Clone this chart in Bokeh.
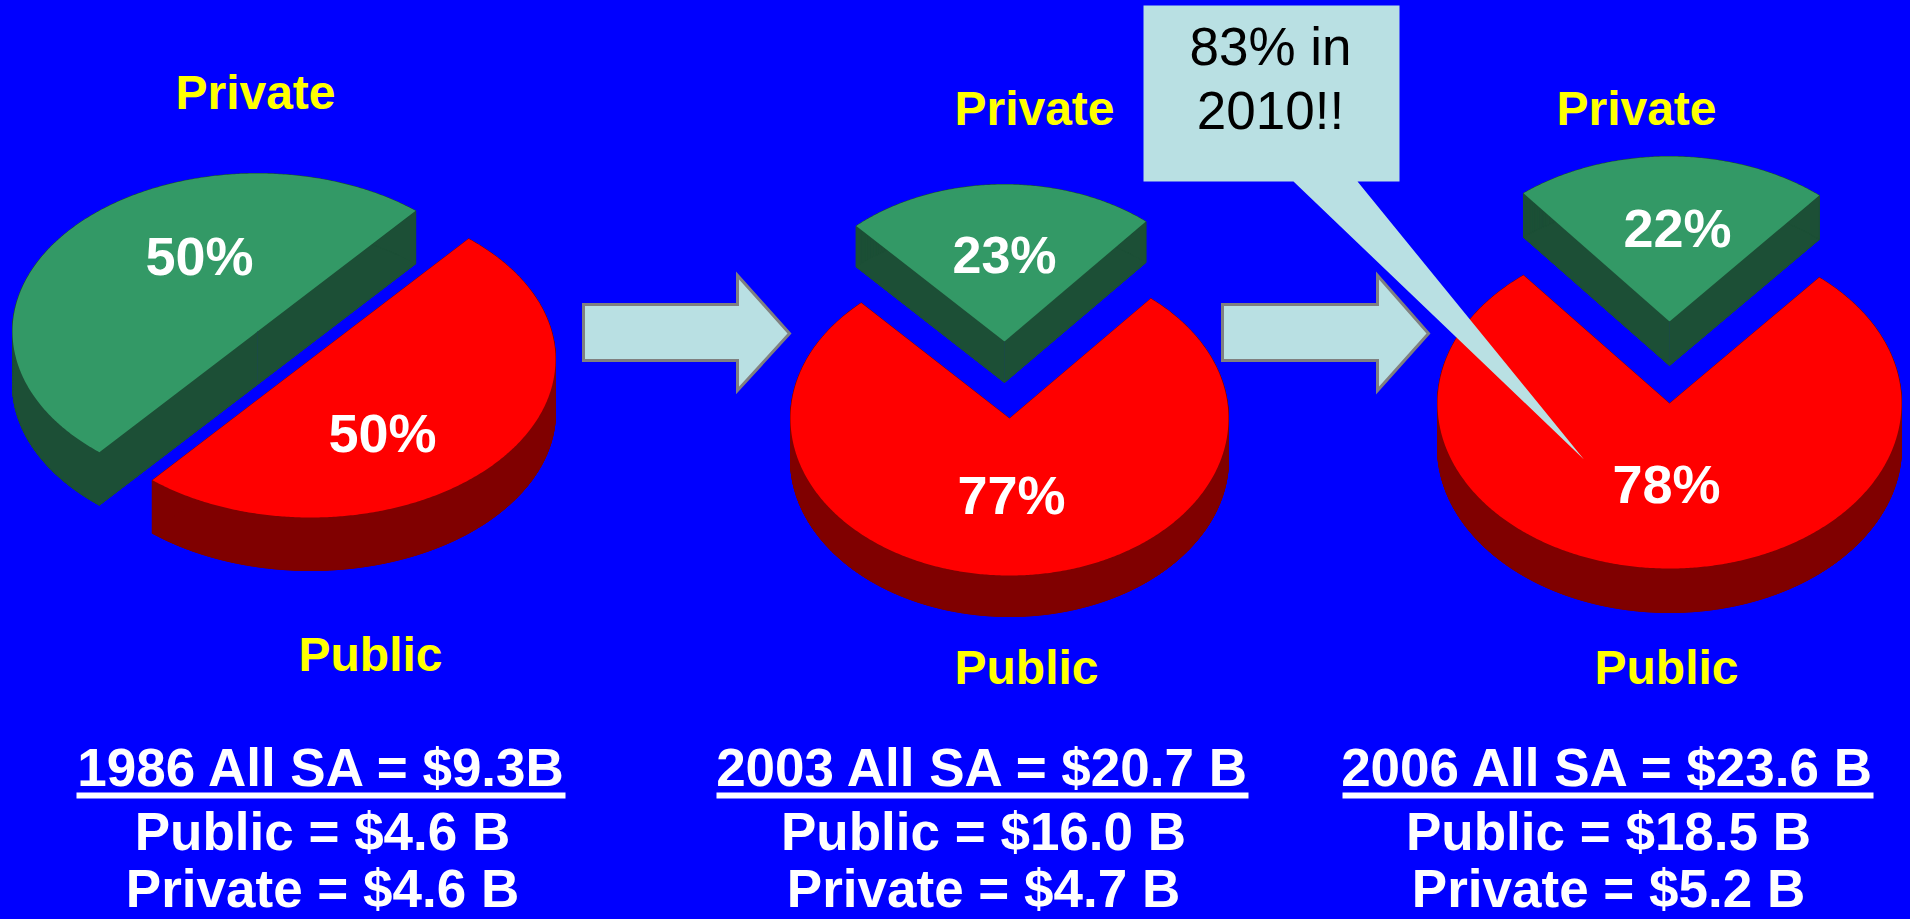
import numpy as np
from bokeh.core.properties import value
from bokeh.embed import file_html
from bokeh.models import Range1d
from bokeh.plotting import figure
from bokeh.resources import INLINE

# ---- data ----
years = ["1986", "2003", "2006"]
private_share = [50, 23, 22]
public_share = [50, 77, 78]
private_labels = ["50%", "23%", "22%"]
public_labels = ["50%", "77%", "78%"]
headline_texts = ["1986 All SA = $9.3B", "2003 All SA = $20.7 B", "2006 All SA = $23.6 B"]
public_texts = ["Public = $4.6 B", "Public = $16.0 B", "Public = $18.5 B"]
private_texts = ["Private = $4.6 B", "Private = $4.7 B", "Private = $5.2 B"]
callout_lines = ["83% in", "2010!!"]

# ---- layout (page pixels) ----
W, H = 1910, 919
BLUE = "#0000ff"
GREEN, GREEN_DK = "#339966", "#1c4f36"
RED, RED_DK = "#ff0000", "#800000"
PALE = "#b9e0e3"
BOUNDARY = 40.2  # clock angle of the edge where the private slice ends
BASE_SHIFT = 0.37  # the svg text sits this many ems below the requested baseline

pies = [
    dict(rx=245, ry=158, depth=53, green=(257, 331), red=(310, 359)),
    dict(rx=219, ry=157, depth=41, green=(1004, 341), red=(1009, 418)),
    dict(rx=232, ry=165, depth=44, green=(1669, 321), red=(1669, 403)),
]
private_name_pos = [(255, 110), (1034, 125.5), (1636, 125.5)]
public_name_pos = [(370, 672), (1026, 684.5), (1666, 684.5)]
private_pct_pos = [(199, 275), (1004, 274), (1677, 247)]
public_pct_pos = [(382, 452), (1011, 514), (1666, 503)]
pct_sizes = [54, 52, 54]
text_x = [322, 983, 1608]
underline_x = [(76, 565), (716, 1248), (1342, 1873)]
ROW_Y = (787, 851, 908)

p = figure(width=W, height=H, x_range=Range1d(0, W), y_range=Range1d(H, 0),
           output_backend="svg", toolbar_location=None, min_border=0,
           x_axis_location=None, y_axis_location=None,
           background_fill_color=BLUE, border_fill_color=BLUE, outline_line_color=None)
p.grid.visible = False


def wedge_outline(cx, cy, rx, ry, start, end):
    """Slice outline; angles are clock degrees from the top of the disc."""
    t = np.radians(np.linspace(start, end, max(int(abs(end - start)), 2) * 2))
    xs = np.concatenate(([cx], cx + rx * np.sin(t)))
    ys = np.concatenate(([cy], cy - ry * np.cos(t)))
    return xs, ys


def draw_slice(cx, cy, rx, ry, depth, start, end, face, side):
    xs, ys = wedge_outline(cx, cy, rx, ry, start, end)
    n = len(xs)
    quad_x, quad_y = [], []
    for i in range(n):
        j = (i + 1) % n
        quad_x.append([xs[i], xs[j], xs[j], xs[i]])
        quad_y.append([ys[i], ys[j], ys[j] + depth, ys[i] + depth])
    p.patches(quad_x, quad_y, fill_color=side, line_color=side, line_width=1)
    p.patch(xs, ys + depth, fill_color=side, line_color=side, line_width=1)
    p.patch(xs, ys, fill_color=face, line_color=None)


for k, g in enumerate(pies):
    start_priv = BOUNDARY - 3.6 * private_share[k]
    end_pub = BOUNDARY + 3.6 * public_share[k]
    draw_slice(*g["red"], g["rx"], g["ry"], g["depth"], BOUNDARY, end_pub, RED, RED_DK)
    draw_slice(*g["green"], g["rx"], g["ry"], g["depth"], start_priv, BOUNDARY, GREEN, GREEN_DK)
    gx, gy = g["green"]
    p.line([gx, gx], [gy, gy + g["depth"]], line_color="#1a4a44", line_width=1)


def put_text(x, y, text, size, color, style="bold"):
    p.text([x], [y - BASE_SHIFT * size], text=[text], text_color=color, text_align="center",
           text_baseline="alphabetic", text_font=value("Liberation Sans"),
           text_font_style=style, text_font_size=f"{size}px")


for k in range(3):
    put_text(*private_pct_pos[k], private_labels[k], pct_sizes[k], "#ffffff")
    put_text(*public_pct_pos[k], public_labels[k], 54, "#ffffff")

for pos in private_name_pos:
    put_text(*pos, "Private", 48, "#ffff00")
for pos in public_name_pos:
    put_text(*pos, "Public", 48, "#ffff00")

for k in range(3):
    put_text(text_x[k], ROW_Y[0], headline_texts[k], 53, "#ffffff")
    put_text(text_x[k], ROW_Y[1], public_texts[k], 53, "#ffffff")
    put_text(text_x[k], ROW_Y[2], private_texts[k], 53, "#ffffff")
    p.line(list(underline_x[k]), [795, 795], line_color="#ffffff", line_width=6)

# arrows
for x0, neck, tip in [(583, 737, 789), (1222, 1377, 1428)]:
    p.patch([x0, neck, neck, tip, neck, neck, x0],
            [304, 304, 275, 333, 390, 360, 360],
            fill_color=PALE, line_color="#808080", line_width=3, line_join="miter")

# callout
p.patch([1143, 1399, 1399, 1357, 1583.5, 1293, 1143],
        [5, 5, 181, 181, 459, 181, 181],
        fill_color=PALE, line_color=None)
for line, y in zip(callout_lines, (66, 130)):
    put_text(1270, y, line, 53, "#000000", style="normal")

html = file_html(p, INLINE)
html = html.replace("</head>", "<style>html,body{background:#0000ff}</style></head>", 1)
open("out.html", "w").write(html)
